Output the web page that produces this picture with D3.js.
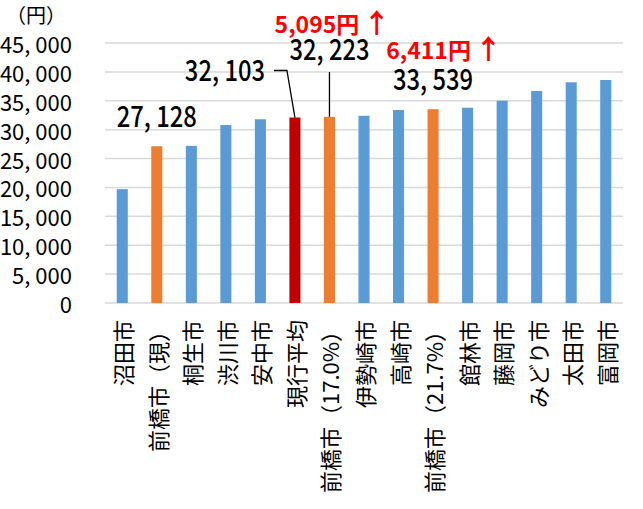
<!DOCTYPE html>
<html>
<head>
<meta charset="utf-8">
<script src="https://cdn.jsdelivr.net/npm/d3@7"></script>
<style>
  body { margin: 0; background: #fff; }
  text { font-family: "Noto Sans CJK JP", sans-serif; }
</style>
</head>
<body>
<svg width="643" height="509"></svg>
<script>
const cities = ["沼田市", "前橋市（現）", "桐生市", "渋川市", "安中市", "現行平均", "前橋市（17.0%）",
  "伊勢崎市", "高崎市", "前橋市（21.7%）", "館林市", "藤岡市", "みどり市", "太田市", "富岡市"];
const values = [19700, 27128, 27200, 30800, 31800, 32103, 32223,
  32400, 33400, 33539, 33800, 35000, 36700, 38200, 38600];
// blue = other cities, orange = maebashi, red = current average
const kinds = ["city", "maebashi", "city", "city", "city", "average", "maebashi",
  "city", "city", "maebashi", "city", "city", "city", "city", "city"];
const yTicks = [0, 5000, 10000, 15000, 20000, 25000, 30000, 35000, 40000, 45000];
const baseCity = "前橋市（現）";
const labelled = ["前橋市（現）", "現行平均", "前橋市（17.0%）", "前橋市（21.7%）"];

const colors = { city: "#5B9BD5", maebashi: "#ED7D31", average: "#C00000" };
const svg = d3.select("svg");
const fmt = v => d3.format(",")(v).replace(",", ", ");

const x = d3.scaleBand().domain(cities).range([105, 623]).paddingInner(0.68).paddingOuter(0.34);
const y = d3.scaleLinear().domain([0, 45000]).range([303, 43]);

// gridlines
svg.append("g").selectAll("line").data(yTicks).enter().append("line")
  .attr("x1", 105).attr("x2", 623)
  .attr("y1", d => y(d)).attr("y2", d => y(d))
  .attr("stroke", "#D9D9D9").attr("stroke-width", 1.5);

// y axis labels
svg.append("g").selectAll("text").data(yTicks).enter().append("text")
  .attr("x", 72).attr("y", d => y(d))
  .attr("dominant-baseline", "central").attr("text-anchor", "end")
  .attr("font-size", 22).attr("fill", "#000")
  .text(d => fmt(d));

svg.append("text").attr("x", 6).attr("y", 23).attr("font-size", 20).text("（円）");

// bars
svg.append("g").selectAll("rect").data(cities).enter().append("rect")
  .attr("x", d => x(d)).attr("width", x.bandwidth())
  .attr("y", (d, i) => y(values[i]))
  .attr("height", (d, i) => y(0) - y(values[i]))
  .attr("fill", (d, i) => colors[kinds[i]]);

// category labels, rotated
svg.append("g").selectAll("text").data(cities).enter().append("text")
  .attr("transform", d => `translate(${x(d) + x.bandwidth() / 2},320) rotate(-90)`)
  .attr("text-anchor", "end").attr("dominant-baseline", "central")
  .attr("font-size", 22).attr("fill", "#000")
  .text(d => d);

// value annotations
const cx = name => x(name) + x.bandwidth() / 2;
const val = name => values[cities.indexOf(name)];
const annot = [
  { name: labelled[0], dx: 0, y: 127 },
  { name: labelled[1], dx: -70, y: 81 },
  { name: labelled[2], dx: 0, y: 60 },
  { name: labelled[3], dx: 0, y: 90 }
];
annot.forEach(a => {
  svg.append("text")
    .attr("transform", `translate(${cx(a.name) + a.dx},${a.y}) scale(0.82,1)`)
    .attr("text-anchor", "middle").attr("font-size", 29).attr("font-weight", 500)
    .text(fmt(val(a.name)));
});

// leader lines
svg.append("path")
  .attr("d", `M${cx(labelled[1]) - 21},70.5 H${cx(labelled[1]) - 8} L${cx(labelled[1])},${y(val(labelled[1]))}`)
  .attr("fill", "none").attr("stroke", "#000").attr("stroke-width", 1.3);
svg.append("line")
  .attr("x1", cx(labelled[2])).attr("x2", cx(labelled[2]))
  .attr("y1", 72).attr("y2", y(val(labelled[2])))
  .attr("stroke", "#000").attr("stroke-width", 1.3);

// increase vs current maebashi
[{ name: labelled[2], dx: 3, y: 33 }, { name: labelled[3], dx: 11, y: 59 }].forEach(a => {
  const t = svg.append("text")
    .attr("x", cx(a.name) + a.dx).attr("y", a.y)
    .attr("text-anchor", "middle").attr("font-size", 23).attr("font-weight", 700)
    .attr("fill", "#FF0000");
  t.append("tspan").text(d3.format(",")(val(a.name) - val(baseCity)) + "円");
  t.append("tspan").attr("dx", 4).attr("font-size", 27).text("↑");
});
</script>
</body>
</html>
